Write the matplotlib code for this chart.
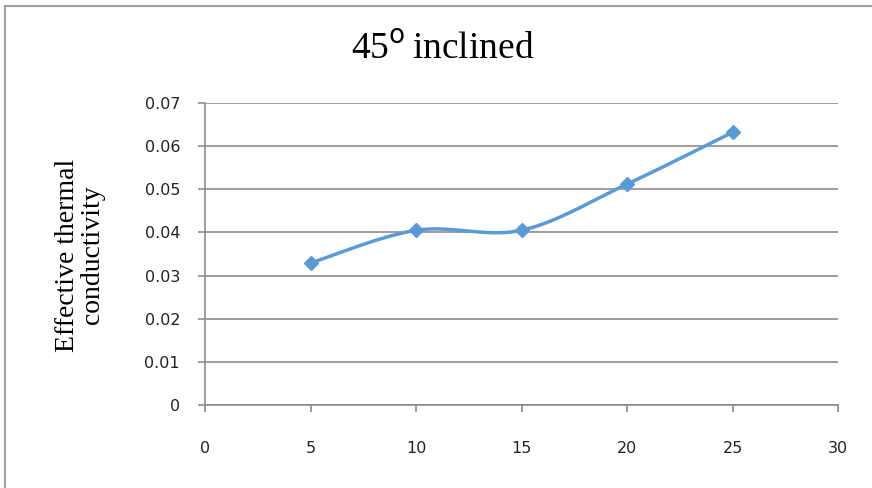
"""Effective thermal conductivity, 45 degree inclined (Excel-style line chart)."""

import numpy as np
from matplotlib import pyplot
from matplotlib.lines import Line2D

# Data.
x_values = [5, 10, 15, 20, 25]
k_eff = [0.0329, 0.0405, 0.0405, 0.0512, 0.0632]
x_ticks = [0, 5, 10, 15, 20, 25, 30]
y_ticks = [0, 0.01, 0.02, 0.03, 0.04, 0.05, 0.06, 0.07]
y_tick_labels = ['0', '0.01', '0.02', '0.03', '0.04', '0.05', '0.06', '0.07']

line_color = '#5B9BD5'
grid_color = '#8C8C8C'


def smooth_curve(x, y, xspan, yspan, n=40):
    """Excel-like smoothed line: Catmull-Rom Bezier through the points."""
    p = np.column_stack([np.asarray(x) / xspan, np.asarray(y) / yspan])
    pts = np.vstack([p[0], p, p[-1]])
    out = []
    t = np.linspace(0, 1, n)[:, None]
    for i in range(1, len(pts) - 2):
        p0, p1, p2, p3 = pts[i - 1], pts[i], pts[i + 1], pts[i + 2]
        c1 = p1 + (p2 - p0) / 6
        c2 = p2 - (p3 - p1) / 6
        seg = ((1 - t)**3 * p1 + 3 * (1 - t)**2 * t * c1
               + 3 * (1 - t) * t**2 * c2 + t**3 * p2)
        out.append(seg)
    out = np.vstack(out)
    return out[:, 0] * xspan, out[:, 1] * yspan


fig = pyplot.figure(figsize=(8.72, 4.88), dpi=100)
ax = fig.add_axes([205 / 872, 1 - 405 / 488, 633 / 872, 302 / 488])

# Outer chart frame (top and left edges visible in the reference).
fig.add_artist(Line2D([5 / 872, 1.0], [1 - 6 / 488, 1 - 6 / 488],
                      color='#A0A0A0', lw=1.5, transform=fig.transFigure))
fig.add_artist(Line2D([5 / 872, 5 / 872], [0.0, 1 - 6 / 488],
                      color='#A0A0A0', lw=1.5, transform=fig.transFigure))

ax.set_xlim(0, 30)
ax.set_ylim(0, 0.07)
ax.set_xticks(x_ticks)
ax.set_yticks(y_ticks)
ax.set_yticklabels(y_tick_labels)
ax.yaxis.grid(True, color=grid_color, lw=1.2)
ax.set_axisbelow(True)
for side in ('top', 'right'):
    ax.spines[side].set_visible(False)
for side in ('left', 'bottom'):
    ax.spines[side].set_color(grid_color)
    ax.spines[side].set_linewidth(1.2)
ax.tick_params(axis='both', direction='out', length=5, width=1.2,
               color=grid_color, labelsize=11.5, labelcolor='#222222')
ax.tick_params(axis='x', pad=21)
ax.tick_params(axis='y', pad=13)

xs, ys = smooth_curve(x_values, k_eff, 30, 0.07)
ax.plot(xs, ys, color=line_color, lw=2.5, solid_capstyle='round', clip_on=False)
ax.plot(x_values, k_eff, linestyle='none', marker='D', markersize=7.5,
        color=line_color, clip_on=False)

fig.text(0.508, 1 - 50 / 488, r'45$^{\mathrm{o}}\,$inclined', ha='center',
         va='center', fontsize=27, family='Liberation Serif')
fig.text(80 / 872, 1 - 255 / 488, 'Effective thermal\nconductivity',
         rotation=90, ha='center', va='center', fontsize=20,
         family='Liberation Serif', linespacing=1.0)

fig.savefig('out.png', dpi=100)
